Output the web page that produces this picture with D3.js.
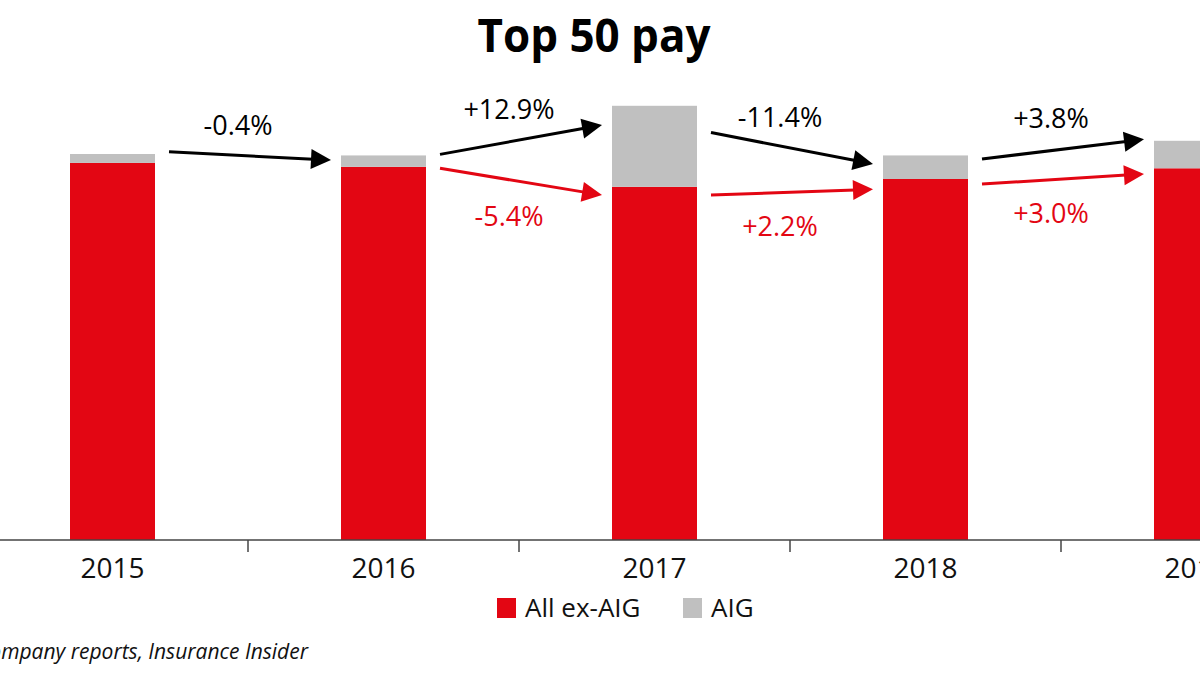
<!DOCTYPE html>
<html>
<head>
<meta charset="utf-8">
<script src="https://cdn.jsdelivr.net/npm/d3@7"></script>
<style>
  body { margin: 0; background: #fff; }
  svg { display: block; font-family: "Open Sans", sans-serif; }
</style>
</head>
<body>
<div id="chart"></div>
<script>
// Data ($m, estimated from the bar heights and the printed growth rates)
const years = ["2015", "2016", "2017", "2018", "2019"];
const exAIG = [1056, 1045, 989, 1011, 1041];
const aig = [25, 32, 227, 66, 77];

// Growth annotations between consecutive years
const totalChange = ["-0.4%", "+12.9%", "-11.4%", "+3.8%"];
const exAIGChange = [null, "-5.4%", "+2.2%", "+3.0%"];

// Arrow anchor levels (same units as the bars)
const blackFrom = [1087, 1080, 1141, 1067];
const blackTo = [1064, 1162, 1053, 1122];
const redFrom = [null, 1041, 966, 997];
const redTo = [null, 966, 982, 1025];

const seriesNames = ["All ex-AIG", "AIG"];

const width = 1200, height = 675;
const RED = "#e30613", GREY = "#c0c0c0";

const svg = d3.select("#chart").append("svg")
    .attr("width", width)
    .attr("height", height);

// x: one slot per year, the chart is wider than the window so edges are cut
const x = d3.scaleBand().domain(years).range([-23, 1332]).padding(0);
const barW = 85;
const barX = d => x(d) + (x.bandwidth() - barW) / 2;

const y = d3.scaleLinear().domain([0, exAIG[0] + aig[0]]).range([540, 154]);

// stacked data
const rows = years.map((yr, i) => ({ year: yr, exAIG: exAIG[i], aig: aig[i] }));
const stack = d3.stack().keys(["exAIG", "aig"])(rows);
const color = d3.scaleOrdinal().domain(["exAIG", "aig"]).range([RED, GREY]);

svg.append("g")
    .selectAll("g")
    .data(stack)
    .join("g")
    .attr("fill", d => color(d.key))
    .selectAll("rect")
    .data(d => d)
    .join("rect")
    .attr("x", d => barX(d.data.year))
    .attr("y", d => y(d[1]))
    .attr("width", barW)
    .attr("height", d => y(d[0]) - y(d[1]));

// Axis: labels in the middle of each slot, ticks at slot boundaries
const axis = svg.append("g").attr("transform", "translate(0,540)");
axis.append("line")
    .attr("x1", 0).attr("x2", width)
    .attr("stroke", "#444").attr("stroke-width", 1.5);
axis.selectAll("line.tick")
    .data(years.slice(1))
    .join("line")
    .attr("class", "tick")
    .attr("x1", d => x(d)).attr("x2", d => x(d))
    .attr("y1", 0).attr("y2", 12)
    .attr("stroke", "#444").attr("stroke-width", 1.5);
axis.selectAll("text")
    .data(years)
    .join("text")
    .attr("x", d => x(d) + x.bandwidth() / 2)
    .attr("y", 38)
    .attr("text-anchor", "middle")
    .style("font-size", "28px")
    .attr("fill", "#111")
    .text(d => d);

// Arrow helper: line plus a filled triangular head at the tip
function arrow(g, x1, y1, x2, y2, col) {
    const ang = Math.atan2(y2 - y1, x2 - x1);
    const headL = 20, headW = 10;
    const bx = x2 - headL * Math.cos(ang), by = y2 - headL * Math.sin(ang);
    g.append("line")
        .attr("x1", x1).attr("y1", y1)
        .attr("x2", bx + 2 * Math.cos(ang)).attr("y2", by + 2 * Math.sin(ang))
        .attr("stroke", col).attr("stroke-width", 3);
    const px = -Math.sin(ang) * headW, py = Math.cos(ang) * headW;
    g.append("polygon")
        .attr("points", [[x2, y2], [bx + px, by + py], [bx - px, by - py]].map(p => p.join(",")).join(" "))
        .attr("fill", col);
}

const ann = svg.append("g");
years.slice(0, -1).forEach((yr, i) => {
    const next = years[i + 1];
    const xs = barX(yr) + barW + 14;
    const xe = barX(next) - 10;
    const labelX = x(next) - 10;

    const by1 = y(blackFrom[i]), by2 = y(blackTo[i]);
    arrow(ann, xs, by1, xe, by2, "#000");
    ann.append("text")
        .attr("x", labelX)
        .attr("y", (by1 + by2) / 2 - 21)
        .attr("text-anchor", "middle")
        .style("font-size", "27px")
        .attr("fill", "#000")
        .text(totalChange[i]);

    if (exAIGChange[i]) {
        const ry1 = y(redFrom[i]), ry2 = y(redTo[i]);
        arrow(ann, xs, ry1, xe, ry2, RED);
        ann.append("text")
            .attr("x", labelX)
            .attr("y", (ry1 + ry2) / 2 + 44)
            .attr("text-anchor", "middle")
            .style("font-size", "27px")
            .attr("fill", RED)
            .text(exAIGChange[i]);
    }
});

// Title (condensed bold look)
svg.append("text")
    .attr("x", 594)
    .attr("y", 52)
    .attr("text-anchor", "middle")
    .attr("textLength", 233)
    .attr("lengthAdjust", "spacingAndGlyphs")
    .style("font-size", "47px")
    .style("font-weight", 700)
    .attr("fill", "#000")
    .text("Top 50 pay");

// Legend
const legend = svg.append("g").attr("transform", "translate(497,598)");
const items = legend.selectAll("g")
    .data(seriesNames)
    .join("g")
    .attr("transform", (d, i) => `translate(${i * 186},0)`);
items.append("rect")
    .attr("width", 19).attr("height", 20)
    .attr("fill", (d, i) => [RED, GREY][i]);
items.append("text")
    .attr("x", 28)
    .attr("y", 19)
    .style("font-size", "26px")
    .attr("fill", "#111")
    .text(d => d);

// Source note (left part falls outside the window, as in the original crop)
svg.append("text")
    .attr("x", 308)
    .attr("y", 659)
    .attr("text-anchor", "end")
    .style("font-size", "21px")
    .style("font-style", "italic")
    .attr("fill", "#111")
    .text("Source: Company reports, Insurance Insider");
</script>
</body>
</html>
